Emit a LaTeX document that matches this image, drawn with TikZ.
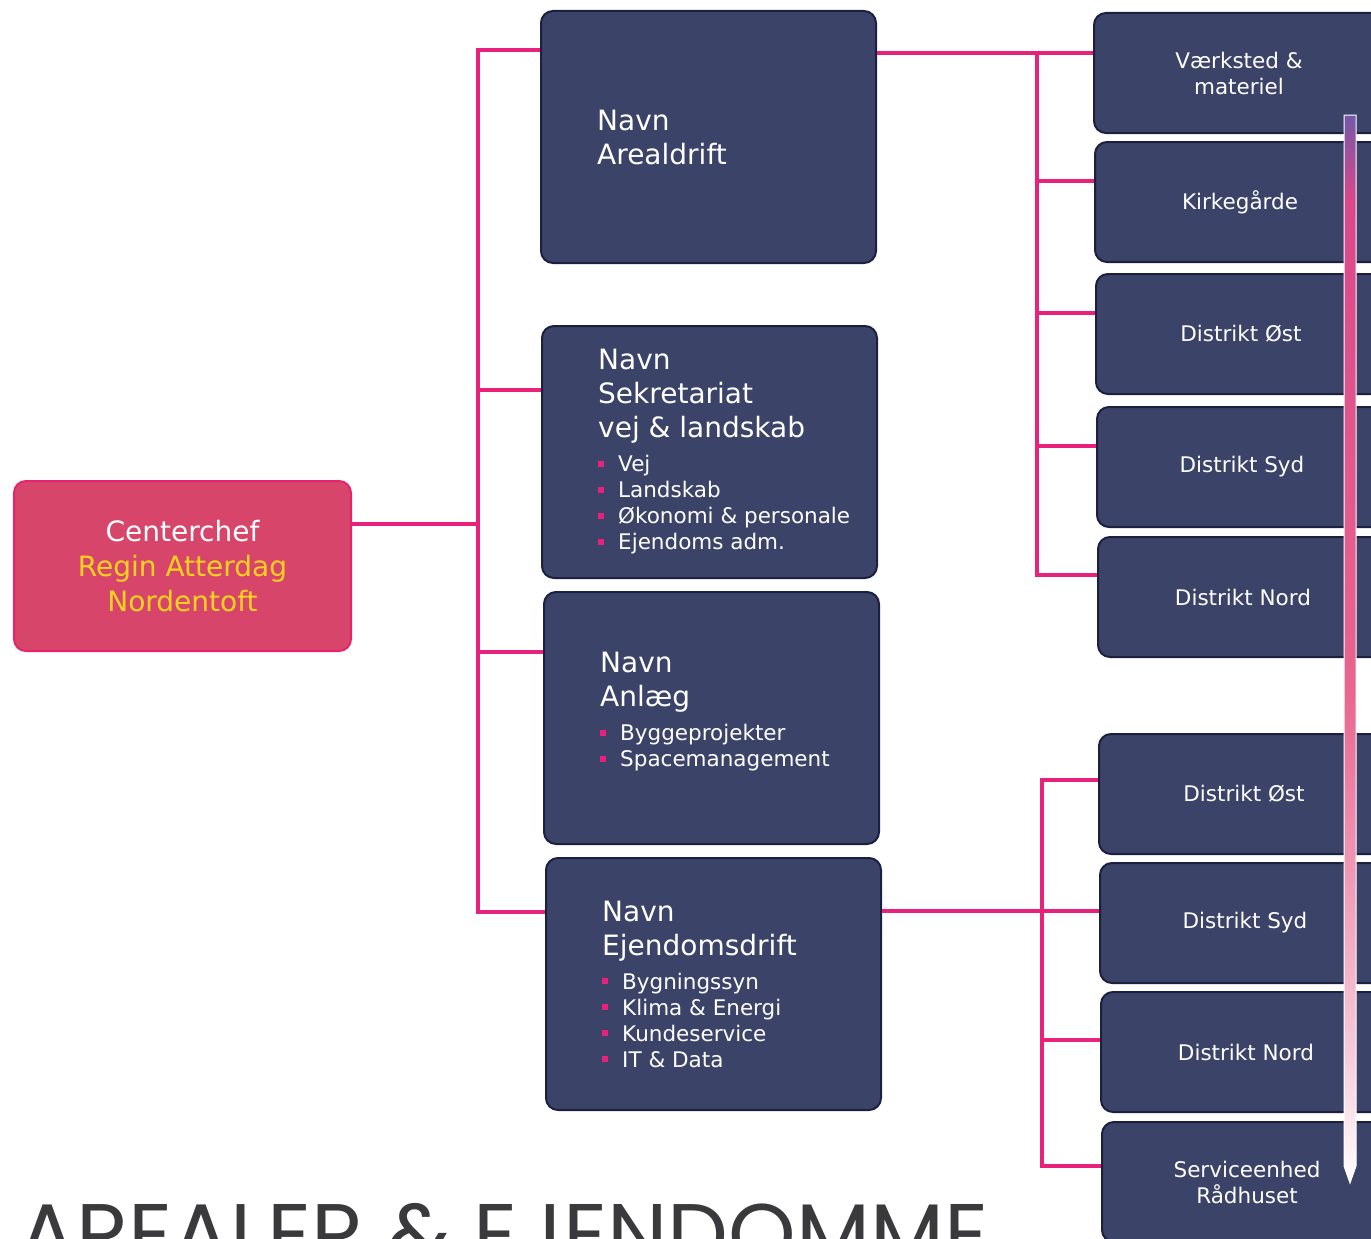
\documentclass[tikz,border=0pt]{standalone}
\usepackage{fontspec}
\setmainfont{DejaVu Sans}
\newfontfamily\titlefont{Poppins}
\usetikzlibrary{positioning}

\definecolor{navy}{HTML}{3B4368}
\definecolor{navyrim}{HTML}{1B2040}
\definecolor{chefred}{HTML}{D8456B}
\definecolor{chefrim}{HTML}{E8236E}
\definecolor{pinkline}{HTML}{E8217A}
\definecolor{namegold}{HTML}{FFD21E}
\definecolor{titlegray}{HTML}{3A3A3C}
\definecolor{flowtop}{HTML}{7458A8}
\definecolor{flowpink}{HTML}{D8488A}
\definecolor{flowmid}{HTML}{E8668F}
\definecolor{flowpale}{HTML}{F6CCDA}

\pgfdeclareverticalshading{flowshade}{100bp}{color(0bp)=(white); color(25bp)=(white); color(31bp)=(flowpale); color(48bp)=(flowmid); color(71bp)=(flowpink); color(75bp)=(flowtop); color(100bp)=(flowtop)}

\newcommand\bul{\textcolor{pinkline}{\rule[0.22em]{6pt}{6pt}}\hspace{14pt}}
\newcommand\sub[1]{{\fontsize{21.5}{26}\selectfont\bul #1}}

\tikzset{
  unitbox/.style={draw=navyrim, fill=navy, line width=2pt, rounded corners=12pt,
    anchor=north west, minimum width=335pt, minimum height=252pt, inner sep=0pt},
  unittext/.style={anchor=west, text=white, align=left, inner sep=0pt,
    font=\fontsize{28}{34}\selectfont},
  subbox/.style={draw=navyrim, fill=navy, line width=2pt, rounded corners=12pt,
    anchor=north west, minimum width=290pt, minimum height=120pt, inner sep=0pt,
    text=white, align=center, font=\fontsize{21.5}{26}\selectfont},
  chefbox/.style={draw=chefrim, fill=chefred, line width=2pt, rounded corners=12pt,
    anchor=north west, minimum width=337pt, minimum height=170pt, inner sep=0pt,
    text=white, align=center, font=\fontsize{28}{35}\selectfont},
  link/.style={draw=pinkline, line width=4.5pt},
}

\begin{document}
\begin{tikzpicture}[x=1pt,y=-1pt]
\useasboundingbox (0,0) rectangle (1371,1239);
\clip (0,0) rectangle (1371,1239);

% leder
\node[chefbox] (chef) at (13,480) {Centerchef\\\textcolor{namegold}{Regin Atterdag}\\\textcolor{namegold}{Nordentoft}};

% afdelinger
\node[unitbox] (areal) at (540,10) {};
\node[unittext] at ([xshift=57pt]areal.west) {Navn\\Arealdrift};
\node[unitbox] (sekr) at (541,325) {};
\node[unittext] at ([xshift=57pt]sekr.west) {Navn\\Sekretariat\\vej \& landskab\\
  \sub{Vej}\\[-8pt] \sub{Landskab}\\[-8pt] \sub{Økonomi \& personale}\\[-8pt] \sub{Ejendoms adm.}};
\node[unitbox] (anlaeg) at (543,591) {};
\node[unittext] at ([xshift=57pt,yshift=6pt]anlaeg.west) {Navn\\Anlæg\\
  \sub{Byggeprojekter}\\[-8pt] \sub{Spacemanagement}};
\node[unitbox] (ejend) at (545,857) {};
\node[unittext] at ([xshift=57pt]ejend.west) {Navn\\Ejendomsdrift\\
  \sub{Bygningssyn}\\[-8pt] \sub{Klima \& Energi}\\[-8pt] \sub{Kundeservice}\\[-8pt] \sub{IT \& Data}};

% arealdrift enheder
\node[subbox] (vaerk) at (1093,12) {Værksted \&\\materiel};
\node[subbox] (kirke) at (1094,141) {Kirkegårde};
\node[subbox] (aost) at (1095,273) {Distrikt Øst};
\node[subbox] (asyd) at (1096,406) {Distrikt Syd};
\node[subbox] (anord) at (1097,536) {Distrikt Nord};

% ejendomsdrift enheder
\node[subbox] (eost) at (1098,733) {Distrikt Øst};
\node[subbox] (esyd) at (1099,862) {Distrikt Syd};
\node[subbox] (enord) at (1100,991) {Distrikt Nord};
\node[subbox] (service) at (1101,1121) {Serviceenhed\\Rådhuset};

% forbindelser
\coordinate (trunkL) at (478,0);
\coordinate (trunkA) at (1037,0);
\coordinate (trunkE) at (1042,0);

\draw[link] ([yshift=-44pt]chef.north east) -- ([yshift=-44pt]chef.north east -| trunkL);
\draw[link] ([yshift=-40pt]areal.north west) -| ([yshift=-55pt]ejend.north west -| trunkL) -- ([yshift=-55pt]ejend.north west);
\draw[link] ([yshift=-65pt]sekr.north west) -- ([yshift=-65pt]sekr.north west -| trunkL);
\draw[link] ([yshift=-61pt]anlaeg.north west) -- ([yshift=-61pt]anlaeg.north west -| trunkL);

\draw[link] ([yshift=-41pt]vaerk.north west -| areal.east) -- ([yshift=-41pt]vaerk.north west);
\draw[link] ([yshift=-41pt]vaerk.north west -| trunkA) |- ([yshift=-39pt]anord.north west);
\foreach \u in {kirke,aost,asyd}
  \draw[link] ([yshift=-40pt]\u.north west -| trunkA) -- ([yshift=-40pt]\u.north west);

\draw[link] ([yshift=-49pt]esyd.north west -| ejend.east) -- ([yshift=-49pt]esyd.north west);
\draw[link] ([yshift=-47pt]eost.north west) -| ([yshift=-45pt]service.north west -| trunkE) -- ([yshift=-45pt]service.north west);
\draw[link] ([yshift=-49pt]enord.north west -| trunkE) -- ([yshift=-49pt]enord.north west);

% pil
\shade[shading=flowshade, draw=white, line width=1pt]
  (1344,115) -- (1356,115) -- (1356,1166) -- (1350,1183) -- (1344,1166) -- cycle;

% titel
\node[anchor=base west, inner sep=0pt, text=titlegray, font=\titlefont\fontsize{86}{86}\selectfont] (title) at (18,1264) {AREALER \& EJENDOMME};
\end{tikzpicture}
\end{document}
